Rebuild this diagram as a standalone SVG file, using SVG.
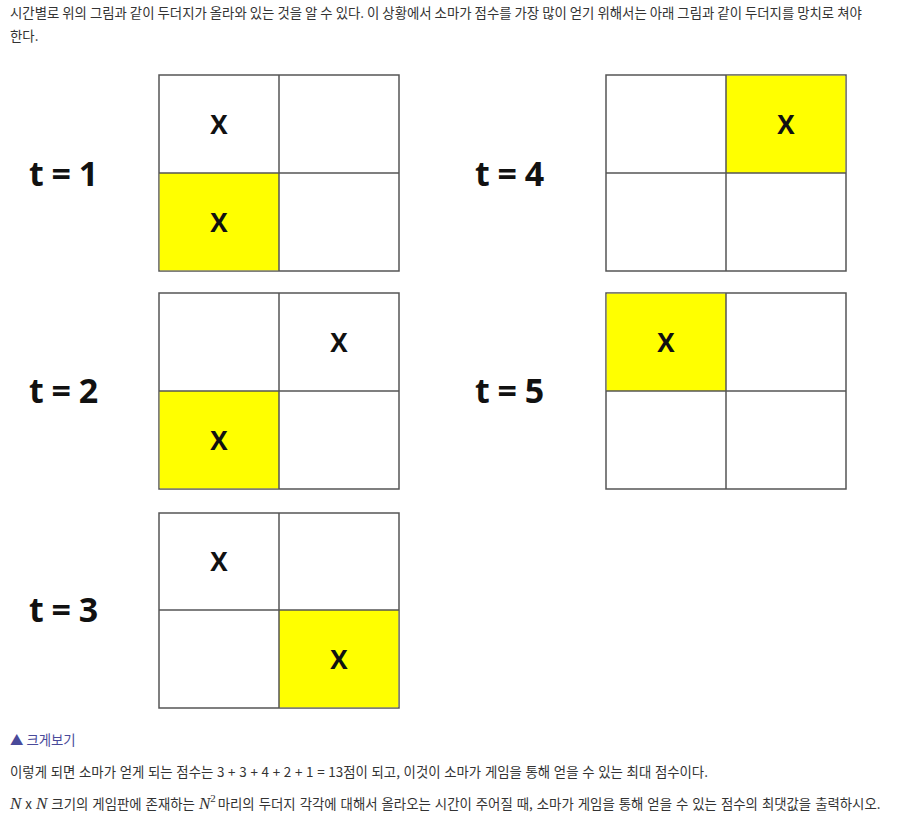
<svg xmlns="http://www.w3.org/2000/svg" width="902" height="840" viewBox="0 0 902 840">
<style>
.p{font-family:"Noto Sans CJK KR","Noto Sans",sans-serif;font-size:13.4px;fill:#333}
.lbl{font-family:"Open Sans","Liberation Sans",sans-serif;font-weight:bold;font-size:34px;fill:#111}
.x{font-family:"Open Sans","Liberation Sans",sans-serif;font-weight:bold;font-size:26px;fill:#111;text-anchor:middle}
.c{fill:#fff;stroke:#555;stroke-width:1.5}
.y{fill:#ffff00}
.m{font-family:"Liberation Serif",serif;font-style:italic;font-size:17px;fill:#333}
</style>
<rect width="902" height="840" fill="#fff"/>
<text class="p" x="10" y="18">시간별로 위의 그림과 같이 두더지가 올라와 있는 것을 알 수 있다. 이 상황에서 소마가 점수를 가장 많이 얻기 위해서는 아래 그림과 같이 두더지를 망치로 쳐야</text>
<text class="p" x="10" y="41">한다.</text>

<g id="t1">
<text class="lbl" x="29" y="186" letter-spacing="-0.5">t = 1</text>
<rect class="c" x="159" y="75" width="240" height="196"/>
<rect class="y" x="159.75" y="173" width="119.25" height="97.25"/>
<line x1="279" y1="75" x2="279" y2="271" stroke="#555" stroke-width="1.5"/>
<line x1="159" y1="173" x2="399" y2="173" stroke="#555" stroke-width="1.5"/>
<text class="x" x="219" y="134">X</text>
<text class="x" x="219" y="232">X</text>
</g>
<g id="t2">
<text class="lbl" x="29" y="403" letter-spacing="-0.5">t = 2</text>
<rect class="c" x="159" y="293" width="240" height="196"/>
<rect class="y" x="159.75" y="391" width="119.25" height="97.25"/>
<line x1="279" y1="293" x2="279" y2="489" stroke="#555" stroke-width="1.5"/>
<line x1="159" y1="391" x2="399" y2="391" stroke="#555" stroke-width="1.5"/>
<text class="x" x="339" y="352">X</text>
<text class="x" x="219" y="450">X</text>
</g>
<g id="t3">
<text class="lbl" x="29" y="622" letter-spacing="-0.5">t = 3</text>
<rect class="c" x="159" y="513" width="240" height="195"/>
<rect class="y" x="279" y="610" width="119.25" height="97.25"/>
<line x1="279" y1="513" x2="279" y2="708" stroke="#555" stroke-width="1.5"/>
<line x1="159" y1="610" x2="399" y2="610" stroke="#555" stroke-width="1.5"/>
<text class="x" x="219" y="571">X</text>
<text class="x" x="339" y="669">X</text>
</g>
<g id="t4">
<text class="lbl" x="475" y="186" letter-spacing="-0.5">t = 4</text>
<rect class="c" x="606" y="75" width="240" height="196"/>
<rect class="y" x="726" y="75.75" width="119.25" height="97.25"/>
<line x1="726" y1="75" x2="726" y2="271" stroke="#555" stroke-width="1.5"/>
<line x1="606" y1="173" x2="846" y2="173" stroke="#555" stroke-width="1.5"/>
<text class="x" x="786" y="134">X</text>
</g>
<g id="t5">
<text class="lbl" x="475" y="403" letter-spacing="-0.5">t = 5</text>
<rect class="c" x="606" y="293" width="240" height="196"/>
<rect class="y" x="606.75" y="293.75" width="119.25" height="97.25"/>
<line x1="726" y1="293" x2="726" y2="489" stroke="#555" stroke-width="1.5"/>
<line x1="606" y1="391" x2="846" y2="391" stroke="#555" stroke-width="1.5"/>
<text class="x" x="666" y="352">X</text>
</g>

<text class="p" x="10" y="745" style="fill:#4a4a9a">▲ 크게보기</text>
<text class="p" x="10" y="777" word-spacing="0.7">이렇게 되면 소마가 얻게 되는 점수는 3 + 3 + 4 + 2 + 1 = 13점이 되고, 이것이 소마가 게임을 통해 얻을 수 있는 최대 점수이다.</text>
<text x="10" y="809" word-spacing="1"><tspan class="m">N</tspan><tspan class="p"> x </tspan><tspan class="m">N</tspan><tspan class="p"> 크기의 게임판에 존재하는 </tspan><tspan class="m">N</tspan><tspan class="m" style="font-style:normal;font-size:11px" dy="-7">2</tspan><tspan class="p" dy="7" dx="2">마리의 두더지 각각에 대해서 올라오는 시간이 주어질 때, 소마가 게임을 통해 얻을 수 있는 점수의 최댓값을 출력하시오.</tspan></text>
</svg>
